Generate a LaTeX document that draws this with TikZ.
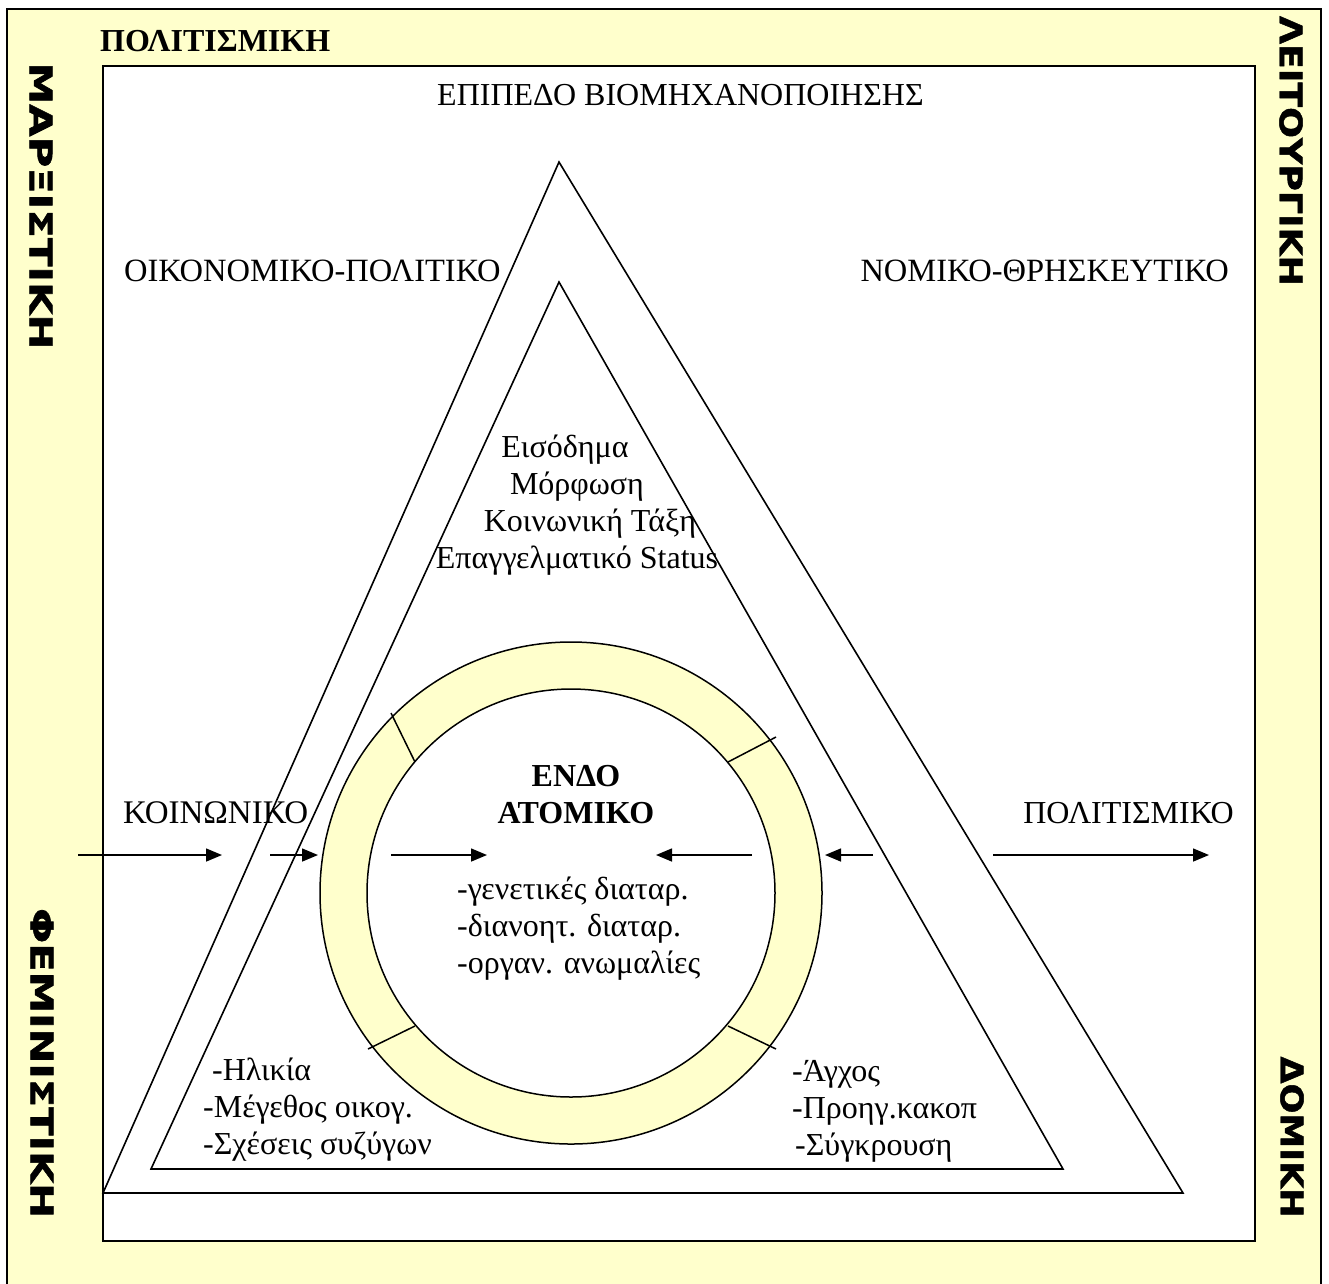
\documentclass[tikz,border=0pt]{standalone}
\usepackage{fontspec}
\setmainfont{Liberation Serif}
\newfontfamily\sidefont[FakeBold=1.5]{DejaVu Sans Bold}
\usepackage{tikz}
\usetikzlibrary{arrows.meta,positioning}
\definecolor{paleyellow}{HTML}{FFFFCC}
\newcommand\sidetext[2]{\resizebox{#1}{\height}{#2}}

\begin{document}
\begin{tikzpicture}[x=1pt,y=-1pt,
    every node/.style={inner sep=0pt},
    txt/.style={font=\fontsize{32}{37}\selectfont},
    sidelbl/.style={rotate=-90,font=\sidefont\fontsize{31}{31}\selectfont},
    band/.style={fill=paleyellow,draw=black,line width=1.5pt},
    edge/.style={line width=1.6pt,line join=miter},
    ray/.style={line width=1.5pt,-{Triangle[length=16pt,width=13pt]}}]
    \useasboundingbox (0,0) rectangle (1329,1283);
    % Frame:
    \draw[band] (7,9) rectangle (1321,1290);
    \filldraw[fill=white,draw=black,line width=1.5pt] (103,66) rectangle (1255,1241);
    % Triangles:
    \coordinate (outtop) at (559,162);
    \coordinate (outleft) at (103,1193);
    \coordinate (outright) at (1183,1193);
    \coordinate (intop) at (559,282);
    \coordinate (inleft) at (151,1169);
    \coordinate (inright) at (1063,1169);
    \draw[edge] (outtop) -- (outright) -- (outleft) -- cycle;
    \draw[edge] (intop) -- (inright) -- (inleft) -- cycle;
    % Ring:
    \coordinate (core) at (571,893);
    \draw[band] (core) circle (251);
    \draw[fill=white,line width=1.5pt] (core) circle (204);
    \draw[line width=1.5pt] (391,713) -- (415,762);
    \draw[line width=1.5pt] (776,737) -- (728,762);
    \draw[line width=1.5pt] (368,1049) -- (415,1026);
    \draw[line width=1.5pt] (776,1049) -- (728,1026);
    % Arrows:
    \coordinate (a1) at (78,855);   \coordinate (b1) at (222,855);
    \coordinate (a2) at (270,855);  \coordinate (b2) at (318,855);
    \coordinate (a3) at (391,855);  \coordinate (b3) at (487,855);
    \coordinate (a4) at (752,855);  \coordinate (b4) at (656,855);
    \coordinate (a5) at (873,855);  \coordinate (b5) at (825,855);
    \coordinate (a6) at (993,855);  \coordinate (b6) at (1209,855);
    \draw[ray] (a1) -- (b1);
    \draw[ray] (a2) -- (b2);
    \draw[ray] (a3) -- (b3);
    \draw[ray] (a4) -- (b4);
    \draw[ray] (a5) -- (b5);
    \draw[ray] (a6) -- (b6);
    % Labels:
    \node[txt,anchor=base west] (cultural) at (100,51) {\bfseries ΠΟΛΙΤΙΣΜΙΚΗ};
    \node[txt,anchor=base west] (level) at (437,105) {ΕΠΙΠΕΔΟ ΒΙΟΜΗΧΑΝΟΠΟΙΗΣΗΣ};
    \node[txt,anchor=base west] (econ) at (124,281) {\fontsize{32.5}{37}\selectfont ΟΙΚΟΝΟΜΙΚΟ-ΠΟΛΙΤΙΚΟ};
    \node[txt,anchor=base east] (law) at (1229,281) {\fontsize{32.5}{37}\selectfont ΝΟΜΙΚΟ-ΘΡΗΣΚΕΥΤΙΚΟ};
    \node[txt,anchor=base west] (social) at (123,823) {\fontsize{33}{37}\selectfont ΚΟΙΝΩΝΙΚΟ};
    \node[txt,anchor=base east] (culture) at (1234,823) {ΠΟΛΙΤΙΣΜΙΚΟ};
    \node[txt,align=center,anchor=north] (endo) at (576,765) {\bfseries ΕΝΔΟ\\\bfseries ΑΤΟΜΙΚΟ};
    \node[txt,align=center,anchor=north] (status) at (577,435)
        {Εισόδημα\hspace*{24pt}\\Μόρφωση\hspace*{4pt}\\\hspace*{26pt}Κοινωνική Τάξη\\Επαγγελματικό Status};
    \node[txt,align=left,anchor=north west] (genes) at (457,877)
        {-γενετικές διαταρ.\\-διανοητ. διαταρ.\\-οργαν. ανωμαλίες};
    \node[txt,align=left,anchor=north west] (family) at (203,1058)
        {\hspace*{9pt}-Ηλικία\\-Μέγεθος οικογ.\\-Σχέσεις συζύγων};
    \node[txt,align=left,anchor=north west] (stress) at (792,1060)
        {-Άγχος\\-Προηγ.κακοπ\\\hspace*{3pt}-Σύγκρουση};
    % Side bands:
    \node[sidelbl] (marx) at (41,206) {\sidetext{287pt}{ΜΑΡΞΙΣΤΙΚΗ}};
    \node[sidelbl] (femin) at (42,1063) {\sidetext{310pt}{ΦΕΜΙΝΙΣΤΙΚΗ}};
    \node[sidelbl] (funct) at (1291,151) {\sidetext{270pt}{ΛΕΙΤΟΥΡΓΙΚΗ}};
    \node[sidelbl] (struct) at (1292,1137) {\sidetext{161pt}{ΔΟΜΙΚΗ}};
\end{tikzpicture}
\end{document}
